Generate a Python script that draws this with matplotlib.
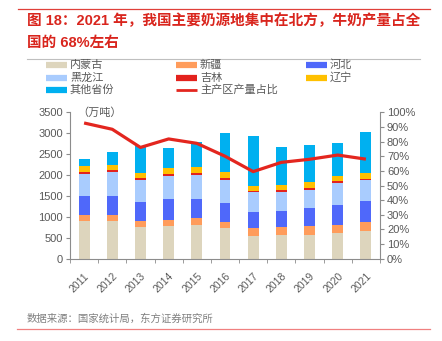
import matplotlib
matplotlib.use("Agg")
import matplotlib.pyplot as plt
from matplotlib.lines import Line2D
from matplotlib.ticker import FixedLocator, PercentFormatter

plt.rcParams['font.family'] = ['Liberation Sans', 'Noto Sans CJK SC']

years = ['2011', '2012', '2013', '2014', '2015', '2016',
         '2017', '2018', '2019', '2020', '2021']

# 万吨
nei_menggu = [900, 905, 757, 781, 797, 733, 552, 560, 575, 614, 670]
xinjiang = [136, 139, 143, 144, 168, 152, 190, 197, 198, 199, 199]
hebei = [454, 462, 455, 494, 462, 446, 383, 383, 430, 478, 510]
heilongjiang = [542, 566, 518, 558, 573, 550, 462, 454, 447, 518, 494]
jilin = [48, 48, 52, 47, 50, 50, 40, 40, 40, 38, 32]
liaoning = [136, 120, 123, 136, 142, 141, 120, 135, 143, 130, 135]
others = [175, 302, 647, 494, 590, 925, 1187, 909, 885, 797, 989]

# 主产区产量占比 (%)
share = [92.7, 88.4, 76.0, 81.8, 78.8, 70.0, 59.5, 65.8, 67.9, 70.8, 68.0]

series = [
    ('内蒙古', nei_menggu, '#DDD5BD'),
    ('新疆', xinjiang, '#FF9C5B'),
    ('河北', hebei, '#4F68FA'),
    ('黑龙江', heilongjiang, '#A9CCFE'),
    ('吉林', jilin, '#E3221D'),
    ('辽宁', liaoning, '#FFC000'),
    ('其他省份', others, '#00B0F0'),
]
line_color = '#E3261F'
grey = '#595959'
spine_grey = '#8C8C8C'

fig = plt.figure(figsize=(4.42, 3.41), dpi=100)
ax = fig.add_axes([70 / 442, 1 - 258.7 / 341, 310 / 442, 146.4 / 341])

x = range(len(years))
bottom = [0] * len(years)
for name, vals, color in series:
    ax.bar(x, vals, width=0.39, bottom=bottom, color=color, label=name)
    bottom = [b + v for b, v in zip(bottom, vals)]

ax.set_xlim(-0.5, len(years) - 0.5)
ax.set_ylim(0, 3500)
ax.set_yticks(range(0, 3501, 500))
ax.set_xticks(list(x))
ax.set_xticklabels(years, rotation=45, ha='right', rotation_mode='anchor')
ax.xaxis.set_minor_locator(FixedLocator([i - 0.5 for i in range(len(years) + 1)]))
ax.tick_params(axis='x', which='major', length=0, pad=9, labelsize=7.5, labelcolor=grey)
ax.tick_params(axis='x', which='minor', length=3, color=spine_grey, direction='out')
ax.tick_params(axis='y', length=3, color=spine_grey, labelsize=8, labelcolor=grey, pad=2)

for side in ['top', 'right']:
    ax.spines[side].set_visible(False)
for side in ['left', 'bottom']:
    ax.spines[side].set_color(spine_grey)
    ax.spines[side].set_linewidth(0.8)

ax.text(0.025, 1.0, '（万吨）', transform=ax.transAxes, fontsize=8,
        color=grey, ha='left', va='center')

ax2 = ax.twinx()
ax2.plot(list(x), share, color=line_color, linewidth=2.3, label='主产区产量占比',
         solid_capstyle='butt')
ax2.set_ylim(0, 100)
ax2.set_yticks(range(0, 101, 10))
ax2.yaxis.set_major_formatter(PercentFormatter(decimals=0))
ax2.tick_params(axis='y', length=3, color=spine_grey, labelsize=8, labelcolor=grey, pad=2)
for side in ['top', 'left', 'bottom']:
    ax2.spines[side].set_visible(False)
ax2.spines['right'].set_color(spine_grey)
ax2.spines['right'].set_linewidth(0.8)

# legend, three columns laid out row by row
entries = [(name, color, 4.5) for name, _, color in series]
entries.append(('主产区产量占比', line_color, 2.0))
col_x = [46, 176, 306]
row_y = [65, 77.5, 89.5]
for i, (name, color, lw) in enumerate(entries):
    cx = col_x[i % 3]
    cy = row_y[i // 3]
    fig.add_artist(Line2D([cx / 442, (cx + 21) / 442], [1 - cy / 341] * 2,
                          color=color, linewidth=lw, solid_capstyle='butt'))
    fig.text((cx + 24) / 442, 1 - cy / 341, name, fontsize=8, color=grey,
             ha='left', va='center')

# header and footer
title_red = '#D9251D'
fig.add_artist(Line2D([18 / 442, 430 / 442], [1 - 9 / 341] * 2,
                      color='#E0403A', linewidth=0.9))
fig.text(27 / 442, 1 - 21 / 341, '图 18：2021 年，我国主要奶源地集中在北方，牛奶产量占全',
         fontsize=10.5, color=title_red, fontweight='bold', ha='left', va='center')
fig.text(27 / 442, 1 - 43 / 341, '国的 68%左右',
         fontsize=10.5, color=title_red, fontweight='bold', ha='left', va='center')
fig.add_artist(Line2D([27 / 442, 420 / 442], [1 - 59 / 341] * 2,
                      color='#BFBFBF', linewidth=0.8))

fig.text(27 / 442, 1 - 319 / 341, '数据来源：国家统计局，东方证券研究所',
         fontsize=7.5, color='#808080', ha='left', va='center')
fig.add_artist(Line2D([17 / 442, 430 / 442], [1 - 328.5 / 341] * 2,
                      color='#F08080', linewidth=0.9))

fig.savefig('out.png', dpi=100)
